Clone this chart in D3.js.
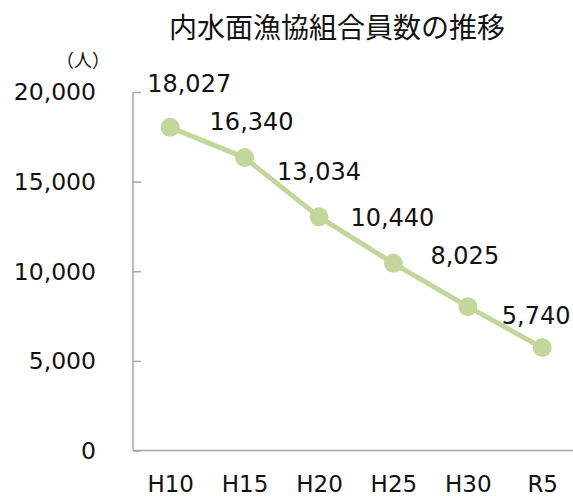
<!DOCTYPE html>
<html><head><meta charset="utf-8">
<script src="https://cdn.jsdelivr.net/npm/d3@7"></script>
<style>body{margin:0;background:#fff;}svg{display:block;}</style>
</head><body>
<script>
const title = "内水面漁協組合員数の推移";
const unitLabel = "（人）";
const categories = ["H10","H15","H20","H25","H30","R5"];
const members = [18027,16340,13034,10440,8025,5740];
const yTicks = [0,5000,10000,15000,20000];

// label placement (layout only)
const labelDx = [19,7,0,-1,-3,-6];
const labelDy = [-35,-28,-37,-37,-43,-24];

(function(){
const W=573,H=496;
const svg=d3.select("body").append("svg").attr("width",W).attr("height",H);
const pL=133, pR=579.4, pT=92, pB=450.5;
const x=d3.scalePoint().domain(categories).range([pL,pR]).padding(0.5);
const y=d3.scaleLinear().domain([0,20000]).range([pB,pT]);
const fmt=d3.format(",");
const txtFont="'DejaVu Sans', Verdana, sans-serif";
const green="#c3d69b", axisCol="#a6a6a6";

svg.append("text").attr("x",337).attr("y",38).attr("text-anchor","middle")
  .attr("font-family","'Noto Sans CJK JP', sans-serif").attr("font-size",28).attr("fill","#111").text(title);
svg.append("text").attr("x",83).attr("y",67).attr("text-anchor","middle")
  .attr("font-family","'Noto Sans CJK JP', sans-serif").attr("font-size",18).attr("fill","#111").text(unitLabel);

// y axis
const ya=svg.append("g").attr("transform",`translate(${pL},0)`)
  .call(d3.axisRight(y).tickValues(yTicks).tickSize(8).tickFormat(""));
ya.select(".domain").remove();
ya.selectAll(".tick line").attr("stroke",axisCol).attr("stroke-width",1.5);
svg.append("line").attr("x1",pL).attr("x2",pL).attr("y1",pT).attr("y2",pB)
  .attr("stroke",axisCol).attr("stroke-width",1.5);
svg.append("g").selectAll("text").data(yTicks).join("text")
  .attr("x",96).attr("y",d=>y(d)).attr("dy","0.36em").attr("text-anchor","end")
  .attr("font-family",txtFont).attr("font-size",23.5).attr("fill","#111").text(d=>fmt(d));

// x axis
const xa=svg.append("g").attr("transform",`translate(0,${pB})`)
  .call(d3.axisBottom(x).tickSize(0).tickPadding(0));
xa.select(".domain").attr("stroke",axisCol).attr("stroke-width",1.5).attr("d",`M${pL},0H${pR}`);
xa.selectAll(".tick text").attr("font-family",txtFont).attr("font-size",23).attr("fill","#111")
  .attr("dy",null).attr("y",41.5);
xa.attr("font-family",null).attr("font-size",null);

// line
svg.append("path").datum(members)
  .attr("d",d3.line().x((d,i)=>x(categories[i])).y(d=>y(d)))
  .attr("fill","none").attr("stroke",green).attr("stroke-width",5).attr("stroke-linejoin","round");
svg.append("g").selectAll("circle").data(members).join("circle")
  .attr("cx",(d,i)=>x(categories[i])).attr("cy",d=>y(d)).attr("r",9.5).attr("fill",green);

// data labels
svg.append("g").selectAll("text").data(members).join("text")
  .attr("x",(d,i)=>x(categories[i])+labelDx[i]).attr("y",(d,i)=>y(d)+labelDy[i])
  .attr("text-anchor","middle").attr("font-family",txtFont).attr("font-size",24).attr("fill","#111")
  .text(d=>fmt(d));
})();
</script>
</body></html>
